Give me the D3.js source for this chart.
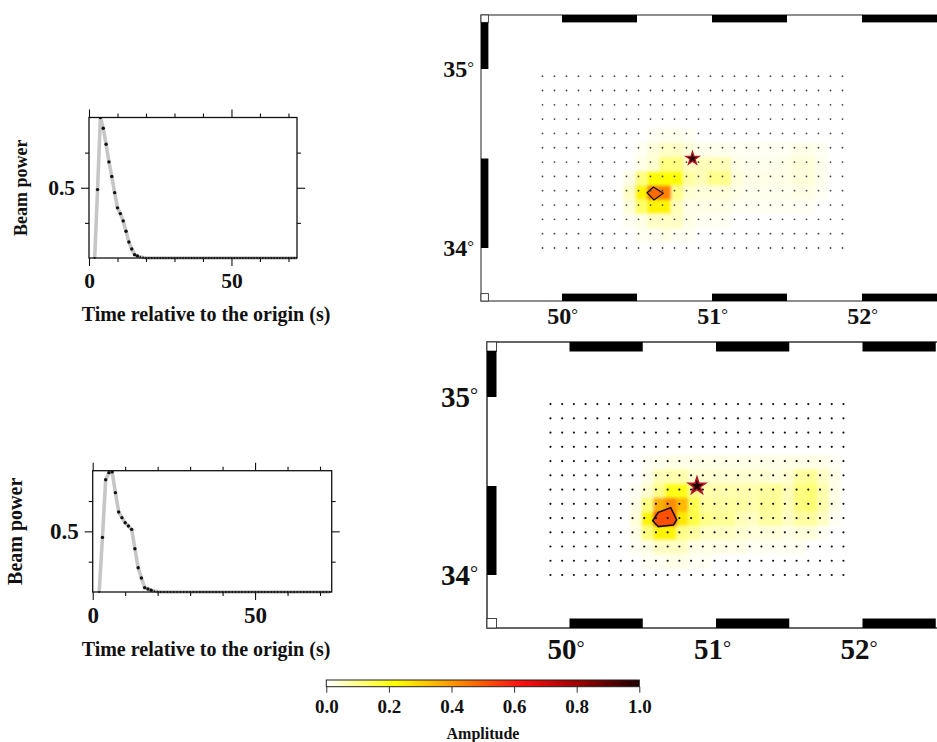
<!DOCTYPE html>
<html>
<head>
<meta charset="utf-8">
<script src="https://cdn.jsdelivr.net/npm/d3@7"></script>
<style>
  body { margin: 0; background: #fff; }
  svg { display: block; }
  text { font-family: "Liberation Serif", serif; font-weight: bold; fill: #111; }
</style>
</head>
<body>
<div id="chart"></div>
<script>
// Beam power, one value per second starting at t = 2 s
const beamTop = [0, 0.487, 1.0, 0.924, 0.81, 0.684, 0.58, 0.465, 0.357, 0.316, 0.264, 0.19, 0.114, 0.064, 0.024, 0.015, 0.008, 0.004,
  0, 0, 0, 0, 0, 0, 0, 0, 0, 0, 0, 0, 0, 0, 0, 0, 0, 0, 0, 0, 0, 0, 0, 0, 0, 0, 0, 0,
  0, 0, 0, 0, 0, 0, 0, 0, 0, 0, 0, 0, 0, 0, 0, 0, 0, 0, 0, 0, 0, 0, 0, 0, 0, 0];
const beamBottom = [0, 0.45, 0.926, 0.984, 0.99, 0.819, 0.66, 0.613, 0.571, 0.544, 0.516, 0.357, 0.2, 0.115, 0.036, 0.025, 0.015, 0.008,
  0.003, 0, 0, 0, 0, 0, 0, 0, 0, 0, 0, 0, 0, 0, 0, 0, 0, 0, 0, 0, 0, 0, 0, 0, 0, 0, 0, 0,
  0, 0, 0, 0, 0, 0, 0, 0, 0, 0, 0, 0, 0, 0, 0, 0, 0, 0, 0, 0, 0, 0, 0, 0, 0, 0];
const beamStart = 2;

// Search grid
const gridLons = [49.87, 49.95, 50.03, 50.11, 50.19, 50.27, 50.35, 50.43, 50.51, 50.59, 50.67, 50.75, 50.83,
  50.91, 50.99, 51.07, 51.15, 51.23, 51.31, 51.39, 51.47, 51.55, 51.63, 51.71, 51.79, 51.87];
const gridLats = [34.96, 34.88, 34.80, 34.72, 34.64, 34.56, 34.48, 34.40, 34.32, 34.24, 34.16, 34.08, 34.00];

// Amplitude per grid cell, rows follow gridLats, columns follow gridLons
const ampTop = [
  [0,0,0,0,0,0,0,0,0,0,0,0,0,0,0,0,0,0,0,0,0,0,0,0,0,0],
  [0,0,0,0,0,0,0,0,0,0,0,0,0,0,0,0,0,0,0,0,0,0,0,0,0,0],
  [0,0,0,0,0,0,0,0,0,0,0,0,0,0,0,0,0,0,0,0,0,0,0,0,0,0],
  [0,0,0,0,0,0,0,0,0,0,0,0,0,0,0,0,0,0,0,0,0,0,0,0,0,0],
  [0,0,0,0,0,0,0,0,0,0.01,0.015,0.015,0.01,0,0,0,0,0,0,0,0,0,0,0,0,0],
  [0,0,0,0,0,0,0,0,0.01,0.03,0.05,0.05,0.03,0.015,0.015,0.015,0.01,0.01,0.01,0.01,0.01,0.02,0.02,0.01,0,0],
  [0,0,0,0,0,0,0,0,0.02,0.04,0.11,0.11,0.05,0.06,0.06,0.06,0.02,0.015,0.015,0.015,0.02,0.03,0.03,0.015,0,0],
  [0,0,0,0,0,0,0,0.02,0.11,0.22,0.22,0.22,0.08,0.06,0.1,0.1,0.03,0.02,0.02,0.02,0.02,0.03,0.03,0.015,0,0],
  [0,0,0,0,0,0,0,0.05,0.24,0.44,0.44,0.1,0.04,0.03,0.03,0.03,0.02,0.015,0.015,0.015,0.015,0.02,0.02,0.01,0,0],
  [0,0,0,0,0,0,0,0.03,0.13,0.24,0.24,0.06,0.02,0.02,0.02,0.02,0.01,0.01,0.01,0.01,0.01,0.01,0.01,0,0,0],
  [0,0,0,0,0,0,0,0.01,0.02,0.05,0.05,0.05,0.02,0.01,0.01,0.01,0,0,0,0,0,0,0,0,0,0],
  [0,0,0,0,0,0,0,0,0.01,0.01,0.02,0.01,0.01,0,0,0,0,0,0,0,0,0,0,0,0,0],
  [0,0,0,0,0,0,0,0,0,0,0,0,0,0,0,0,0,0,0,0,0,0,0,0,0,0]
];
const ampBottom = [
  [0,0,0,0,0,0,0,0,0,0,0,0,0,0,0,0,0,0,0,0,0,0,0,0,0,0],
  [0,0,0,0,0,0,0,0,0,0,0,0,0,0,0,0,0,0,0,0,0,0,0,0,0,0],
  [0,0,0,0,0,0,0,0,0,0,0,0,0,0,0,0,0,0,0,0,0,0,0,0,0,0],
  [0,0,0,0,0,0,0,0,0,0,0,0,0,0,0,0,0,0,0,0,0,0,0,0,0,0],
  [0,0,0,0,0,0,0,0,0.01,0.015,0.02,0.02,0.02,0.02,0.02,0.02,0.02,0.02,0.02,0.02,0.02,0.02,0.02,0.02,0.01,0],
  [0,0,0,0,0,0,0,0,0.02,0.06,0.07,0.07,0.04,0.04,0.04,0.04,0.04,0.04,0.04,0.03,0.04,0.08,0.09,0.05,0.02,0],
  [0,0,0,0,0,0,0,0.01,0.04,0.1,0.2,0.2,0.1,0.07,0.07,0.07,0.07,0.07,0.08,0.09,0.06,0.11,0.12,0.07,0.02,0],
  [0,0,0,0,0,0,0,0.02,0.11,0.36,0.42,0.34,0.15,0.08,0.08,0.08,0.08,0.07,0.09,0.09,0.06,0.11,0.12,0.07,0.02,0],
  [0,0,0,0,0,0,0,0.03,0.24,0.52,0.52,0.26,0.16,0.1,0.09,0.09,0.06,0.05,0.08,0.08,0.05,0.08,0.08,0.05,0.01,0],
  [0,0,0,0,0,0,0,0.02,0.11,0.24,0.24,0.1,0.08,0.05,0.05,0.05,0.04,0.03,0.03,0.03,0.02,0.03,0.03,0.01,0,0],
  [0,0,0,0,0,0,0,0.01,0.02,0.05,0.05,0.05,0.02,0.02,0.02,0.02,0.02,0.01,0.01,0.01,0.01,0.01,0,0,0,0],
  [0,0,0,0,0,0,0,0,0.01,0.01,0.02,0.02,0.01,0.01,0,0,0,0,0,0,0,0,0,0,0,0],
  [0,0,0,0,0,0,0,0,0,0,0,0,0,0,0,0,0,0,0,0,0,0,0,0,0,0]
];

// Contour of the beam maximum and the epicentre
const contourTop = [[50.567, 34.309], [50.609, 34.341], [50.675, 34.306], [50.613, 34.268]];
const contourBottom = [[50.568, 34.305], [50.606, 34.352], [50.691, 34.378], [50.732, 34.309], [50.709, 34.281], [50.606, 34.272]];
const epicentre = [50.87, 34.5];

const lonTicks = [50, 51, 52];
const latTicks = [34, 35];
const lonBands = [[50, 50.5], [51, 51.5], [52, 52.5]];
const latBands = [[35, 35.26], [34, 34.5]];

const colorStops = [0, 0.22, 0.42, 0.62, 0.8, 1];
const colorValues = ["#ffffff", "#ffff00", "#ff8c00", "#ff1010", "#a00000", "#200000"];
const ampTicks = [0, 0.2, 0.4, 0.6, 0.8, 1];

const width = 937;
const height = 742;

let svg = d3.select("#chart").append("svg")
  .attr("width", width)
  .attr("height", height);

let ampColor = d3.scaleLinear().domain(colorStops).range(colorValues);

let defs = svg.append("defs");
defs.append("filter").attr("id", "soft")
  .attr("x", "-5%").attr("y", "-5%").attr("width", "110%").attr("height", "110%")
  .append("feGaussianBlur").attr("stdDeviation", 1.5);

drawBeam({ values: beamTop, xDomain: [0, 73], xRange: [89, 297], yRange: [258, 117.5], id: "clipA",
  tickFont: 21.5, labelX: 22, labelFont: 18, titleY: 315, titleFont: 20 });
drawBeam({ values: beamBottom, xDomain: [0, 73.6], xRange: [92.7, 331.7], yRange: [592, 470.7], id: "clipB",
  tickFont: 23, labelX: 17, labelFont: 20, titleY: 650, titleFont: 20 });

drawMap({ amp: ampTop, contour: contourTop, inside: "#ff6a00",
  xScale: d3.scaleLinear().domain([50, 52]).range([562, 862]),
  yScale: d3.scaleLinear().domain([34, 35]).range([248, 69]),
  left: 481, top: 15, bottom: 301, bar: 7.4, font: 24, latX: 474, lonY: 324, lonShift: 0.5, dotR: 0.9, dotFill: "#444",
  starSize: 90, cellShift: [2.7, 2], lineWidth: 1.1 });
drawMap({ amp: ampBottom, contour: contourBottom, inside: "#ff5000",
  xScale: d3.scaleLinear().domain([50, 52]).range([569.5, 862.5]),
  yScale: d3.scaleLinear().domain([34, 35]).range([575, 397]),
  left: 487, top: 342, bottom: 628, bar: 9.5, font: 29, latX: 478, lonY: 659, lonShift: -3.5, dotR: 1.1, dotFill: "#111",
  starSize: 150, cellShift: [3, 1], lineWidth: 1.5 });

drawColorbar();

function drawBeam(cfg) {
  let x = d3.scaleLinear().domain(cfg.xDomain).range(cfg.xRange);
  let y = d3.scaleLinear().domain([0, 1]).range(cfg.yRange);
  let w = cfg.xRange[1] - cfg.xRange[0];
  let h = cfg.yRange[0] - cfg.yRange[1];
  let g = svg.append("g");

  defs.append("clipPath").attr("id", cfg.id).append("rect")
    .attr("x", cfg.xRange[0]).attr("y", cfg.yRange[1]).attr("width", w).attr("height", h + 2);

  let line = d3.line().x((d, i) => x(i + beamStart)).y(d => y(d));
  g.append("path").datum(cfg.values)
    .attr("clip-path", "url(#" + cfg.id + ")")
    .attr("fill", "none").attr("stroke", "#c6c6c6").attr("stroke-width", 3.6)
    .attr("d", line);

  g.append("rect")
    .attr("x", cfg.xRange[0]).attr("y", cfg.yRange[1]).attr("width", w).attr("height", h)
    .attr("fill", "none").attr("stroke", "#111").attr("stroke-width", 1.3);

  g.selectAll("circle").data(cfg.values).enter().append("circle")
    .attr("clip-path", "url(#" + cfg.id + ")")
    .attr("cx", (d, i) => x(i + beamStart))
    .attr("cy", d => y(d))
    .attr("r", d => d > 0.01 ? 1.7 : 0.9)
    .attr("fill", "#111");

  let minorX = [10, 20, 30, 40, 60, 70];
  let majorX = [0, 50];
  let axes = [
    [d3.axisBottom(x).tickValues(minorX).tickSize(4).tickFormat(""), 0, cfg.yRange[0]],
    [d3.axisTop(x).tickValues(minorX).tickSize(4).tickFormat(""), 0, cfg.yRange[1]],
    [d3.axisTop(x).tickValues(majorX).tickSize(8).tickFormat(""), 0, cfg.yRange[1]],
    [d3.axisLeft(y).tickValues([0.25, 0.75]).tickSize(4).tickFormat(""), cfg.xRange[0], 0],
    [d3.axisRight(y).tickValues([0.25, 0.75]).tickSize(4).tickFormat(""), cfg.xRange[1], 0],
    [d3.axisRight(y).tickValues([0.5]).tickSize(8).tickFormat(""), cfg.xRange[1], 0]
  ];
  axes.forEach(a => {
    let ag = g.append("g").attr("transform", "translate(" + a[1] + "," + a[2] + ")").call(a[0]);
    ag.select(".domain").remove();
  });

  // labelled axes
  let bottomAxis = g.append("g").attr("transform", "translate(0," + cfg.yRange[0] + ")")
    .call(d3.axisBottom(x).tickValues(majorX).tickSize(8).tickPadding(7).tickFormat(d3.format("d")));
  bottomAxis.select(".domain").remove();
  let leftAxis = g.append("g").attr("transform", "translate(" + cfg.xRange[0] + ",0)")
    .call(d3.axisLeft(y).tickValues([0.5]).tickSize(8).tickPadding(6).tickFormat(d3.format(".1f")));
  leftAxis.select(".domain").remove();
  g.selectAll("g.tick line").attr("stroke", "#111").attr("stroke-width", 1.1);
  bottomAxis.selectAll("text").style("font-family", "Liberation Serif").style("font-weight", "bold").style("font-size", cfg.tickFont + "px").attr("fill", "#111");
  leftAxis.selectAll("text").style("font-family", "Liberation Serif").style("font-weight", "bold").style("font-size", cfg.tickFont + "px").attr("fill", "#111");

  g.append("text")
    .attr("x", 206).attr("y", cfg.titleY + 6)
    .attr("text-anchor", "middle")
    .style("font-size", cfg.titleFont + "px")
    .text("Time relative to the origin (s)");

  g.append("text")
    .attr("transform", "translate(" + (cfg.labelX + 5) + "," + (cfg.yRange[0] + cfg.yRange[1]) / 2 + ") rotate(-90)")
    .attr("text-anchor", "middle")
    .style("font-size", cfg.labelFont + "px")
    .text("Beam power");
}

function drawMap(cfg) {
  let x = cfg.xScale;
  let y = cfg.yScale;
  let g = svg.append("g");
  let cellW = x(gridLons[1]) - x(gridLons[0]);
  let cellH = y(gridLats[1]) - y(gridLats[0]);

  // amplitude cells, softened like the original raster
  let heat = g.append("g").attr("filter", "url(#soft)");
  cfg.amp.forEach((row, r) => {
    heat.selectAll("rect.r" + r).data(row).enter().append("rect")
      .attr("class", "r" + r)
      .attr("x", (d, k) => x(gridLons[k]) - cellW / 2 + cfg.cellShift[0])
      .attr("y", y(gridLats[r]) - cellH / 2 + cfg.cellShift[1])
      .attr("width", cellW + 0.4)
      .attr("height", cellH + 0.4)
      .attr("fill", d => ampColor(d));
  });

  g.append("path").datum(cfg.contour)
    .attr("d", d3.line().x(d => x(d[0])).y(d => y(d[1])).curve(d3.curveLinearClosed))
    .attr("fill", cfg.inside)
    .attr("stroke", "#111")
    .attr("stroke-width", cfg.lineWidth + 0.1);

  // grid nodes
  gridLats.forEach((lat, r) => {
    g.selectAll("circle.n" + r).data(gridLons).enter().append("circle")
      .attr("class", "n" + r)
      .attr("cx", d => x(d))
      .attr("cy", y(lat))
      .attr("r", cfg.dotR)
      .attr("fill", cfg.dotFill);
  });

  // epicentre
  let star = g.append("g").attr("transform", "translate(" + x(epicentre[0]) + "," + y(epicentre[1]) + ")");
  star.append("path").attr("d", d3.symbol(d3.symbolStar, cfg.starSize)()).attr("fill", "#b5142a");
  star.append("path").attr("d", d3.symbol(d3.symbolStar, cfg.starSize * 0.3)()).attr("fill", "#200008");

  // map frame with black and white bars
  let right = width + 5;
  let bar = cfg.bar;
  g.append("rect")
    .attr("x", cfg.left).attr("y", cfg.top)
    .attr("width", right - cfg.left).attr("height", cfg.bottom - cfg.top)
    .attr("fill", "none").attr("stroke", "#333").attr("stroke-width", cfg.lineWidth);

  [cfg.top, cfg.bottom - bar].forEach(yy => {
    g.selectAll("rect.lb" + Math.round(yy)).data(lonBands).enter().append("rect")
      .attr("class", "lb" + Math.round(yy))
      .attr("x", d => x(d[0]))
      .attr("y", yy)
      .attr("width", d => x(d[1]) - x(d[0]))
      .attr("height", bar)
      .attr("fill", "#000");
    g.append("rect")
      .attr("x", cfg.left).attr("y", yy).attr("width", bar).attr("height", bar)
      .attr("fill", "#fff").attr("stroke", "#333").attr("stroke-width", 0.9);
  });
  g.selectAll("rect.latb").data(latBands).enter().append("rect")
    .attr("class", "latb")
    .attr("x", cfg.left)
    .attr("y", d => y(d[1]))
    .attr("width", bar)
    .attr("height", d => y(d[0]) - y(d[1]))
    .attr("fill", "#000");

  // coordinate labels
  latTicks.forEach(t => {
    let label = g.append("text")
      .attr("x", cfg.latX).attr("y", y(t) + cfg.font * 0.33)
      .attr("text-anchor", "end")
      .style("font-size", cfg.font + "px");
    label.append("tspan").text(t);
    label.append("tspan").text("°").style("font-weight", "normal").style("font-size", (cfg.font * 0.7) + "px").attr("dy", -cfg.font * 0.15);
  });
  lonTicks.forEach(t => {
    let label = g.append("text")
      .attr("x", x(t) + cfg.lonShift).attr("y", cfg.lonY)
      .attr("text-anchor", "middle")
      .style("font-size", cfg.font + "px");
    label.append("tspan").text(t);
    label.append("tspan").text("°").style("font-weight", "normal").style("font-size", (cfg.font * 0.7) + "px").attr("dy", -cfg.font * 0.15);
  });
}

function drawColorbar() {
  let x = d3.scaleLinear().domain([0, 1]).range([326.3, 639.3]);
  let g = svg.append("g").attr("transform", "translate(0,680)");
  let barH = 6.7;

  let grad = defs.append("linearGradient").attr("id", "ampGrad");
  grad.selectAll("stop").data(colorStops).enter().append("stop")
    .attr("offset", d => d * 100 + "%")
    .attr("stop-color", d => ampColor(d));

  g.append("rect")
    .attr("x", x(0)).attr("width", x(1) - x(0)).attr("height", barH)
    .attr("fill", "url(#ampGrad)")
    .attr("stroke", "#222").attr("stroke-width", 1);

  let axis = g.append("g").attr("transform", "translate(0," + barH + ")")
    .call(d3.axisBottom(x).tickValues(ampTicks).tickSize(6).tickPadding(7).tickFormat(d3.format(".1f")));
  axis.select(".domain").remove();
  axis.selectAll("line").attr("stroke", "#333");
  axis.selectAll("text").style("font-family", "Liberation Serif").style("font-weight", "bold").style("font-size", "19px").attr("fill", "#111");

  svg.append("text")
    .attr("x", 483).attr("y", 739)
    .attr("text-anchor", "middle")
    .style("font-size", "16px")
    .text("Amplitude");
}
</script>
</body>
</html>
